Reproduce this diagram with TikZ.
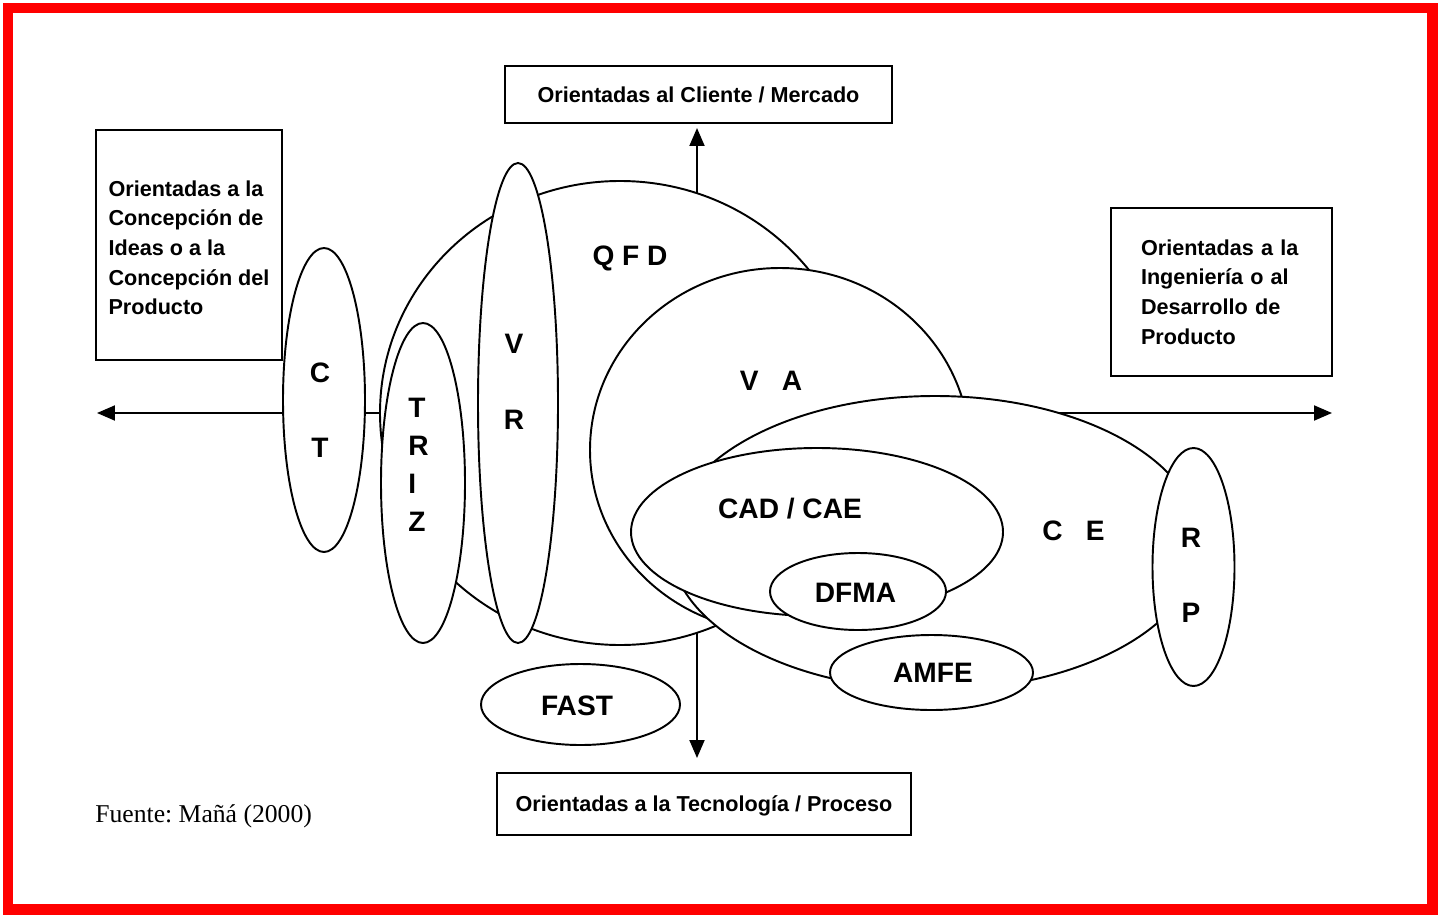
\documentclass[tikz,border=0pt]{standalone}
\usepackage{fontspec}
\setmainfont{Liberation Sans}
\newfontfamily\fuentefont{Liberation Serif}
\usetikzlibrary{arrows.meta}

\begin{document}
\begin{tikzpicture}[x=0.02cm, y=-0.02cm,
  blob/.style={fill=white, draw=black, line width=1.1pt},
  box/.style={draw, line width=1.3pt, font=\bfseries\fontsize{12.3}{16.9}\selectfont},
  lbl/.style={font=\bfseries\fontsize{16}{43}\selectfont, align=center, inner sep=0pt},
  axis/.style={line width=1.1pt, -{Triangle[length=0.36cm, width=0.3cm]}}]
\useasboundingbox (0,0) rectangle (1440,916);
\draw[red, line width=0.22cm] (8,8) rectangle (1432,909);
% the four boxes
\node[box, minimum width=7.74cm, minimum height=1.14cm] (cliente) at (698.5,94.5) {Orientadas al Cliente / Mercado};
\node[box, minimum width=8.28cm, minimum height=1.24cm] (tecnologia) at (704,804) {\rule{0pt}{11pt}Orientadas a la Tecnología / Proceso};
\node[box, align=left, minimum width=3.72cm, minimum height=4.6cm] (concepcion) at (189,245)
  {\rule{0pt}{12pt}Orientadas a la\\Concepción de\\Ideas o a la\\Concepción del\\Producto};
\node[box, align=left, text width=3.22cm, minimum width=4.42cm, minimum height=3.36cm] (ingenieria) at (1221.5,292)
  {Orientadas a la\\Ingeniería o al\\Desarrollo de\\Producto};
% axes
\coordinate (O) at (697,413);
\coordinate (N) at (697,128);
\coordinate (S) at (697,758);
\coordinate (W) at (97,413);
\coordinate (E) at (1332,413);
\draw[axis] (O) -- (N);
\draw[axis] (O) -- (S);
\draw[axis] (O) -- (W);
\draw[axis] (O) -- (E);
% ellipses, back to front
\coordinate (QFD) at (620,413);
\filldraw[blob] (QFD) ellipse (240 and 232);
\coordinate (VA) at (780,450);
\filldraw[blob] (VA) ellipse (190 and 182);
\coordinate (CE) at (935,543);
\filldraw[blob] (CE) ellipse (265 and 147);
\coordinate (CAD) at (817,532);
\filldraw[blob] (CAD) ellipse (186 and 84);
\coordinate (DFMA) at (858,591.5);
\filldraw[blob] (DFMA) ellipse (88 and 38.5);
\coordinate (AMFE) at (931.5,672.5);
\filldraw[blob] (AMFE) ellipse (101.5 and 37.5);
\coordinate (RP) at (1193.5,567);
\filldraw[blob] (RP) ellipse (41 and 119);
\coordinate (FAST) at (580.5,704.5);
\filldraw[blob] (FAST) ellipse (99.5 and 40.5);
\coordinate (CT) at (324,400);
\filldraw[blob] (CT) ellipse (41 and 152);
\coordinate (TRIZ) at (423,483);
\filldraw[blob] (TRIZ) ellipse (42 and 160);
\coordinate (VR) at (518,403);
\filldraw[blob] (VR) ellipse (40 and 240);
% labels
\node[lbl] (qfdtxt) at (630,258) {Q F D};
\node[lbl] (vatxt) at (771,381) {V~~~A};
\node[lbl] (cetxt) at (1073.5,531) {C~~~E};
\node[lbl] (cadtxt) at (790,509) {CAD / CAE};
\node[lbl] (dfmatxt) at (855.5,592.5) {DFMA};
\node[lbl] (amfetxt) at (933,673) {AMFE};
\node[lbl] (fasttxt) at (577,706) {FAST};
\node[lbl] (rptxt) at (1191,575.5) {R\\P};
\node[lbl] (cttxt) at (320,410) {C\\T};
\node[lbl] (vrtxt) at (514,382) {V\\R};
\node[lbl, align=left, font=\bfseries\fontsize{16}{21.7}\selectfont, anchor=west] (triztxt) at (408,465) {T\\R\\I\\Z};
\node[anchor=west, inner sep=0pt, font=\fuentefont\fontsize{14.6}{17}\selectfont] (fuente) at (95,816) {Fuente:\ Mañá (2000)};
\end{tikzpicture}
\end{document}
